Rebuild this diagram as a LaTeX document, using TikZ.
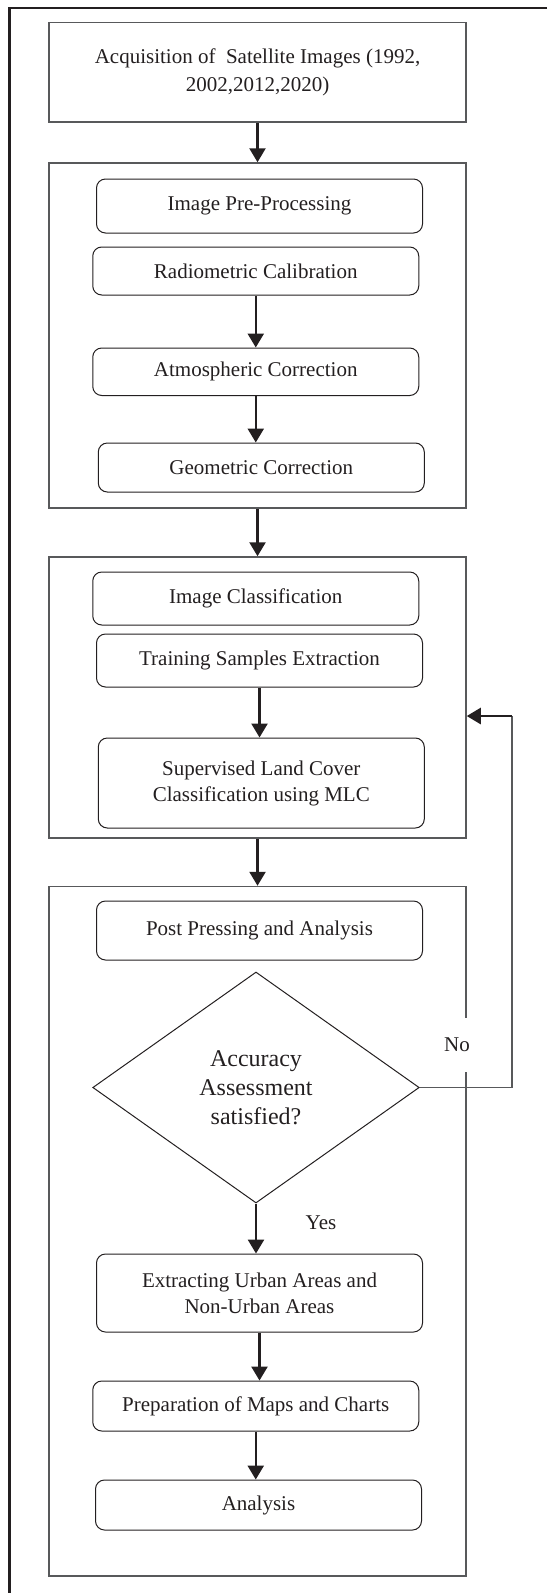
\documentclass[tikz,border=0pt]{standalone}
\usepackage{fontspec}
\setmainfont{Liberation Serif}
\usetikzlibrary{arrows.meta,shapes.geometric}
\definecolor{ink}{HTML}{231F20}
\definecolor{grpgray}{HTML}{58595B}

\begin{document}
\begin{tikzpicture}[x=1pt, y=-1pt,
  proc/.style={draw=ink, line width=1pt, rounded corners=9pt, minimum width=326pt, inner sep=0pt, align=center, text=ink, font=\fontsize{21}{26}\selectfont},
  grp/.style={draw=grpgray, line width=1.5pt, minimum width=417pt, inner sep=0pt},
  arr/.style={draw=ink, line width=2.5pt, -{Triangle[length=14pt, width=16pt]}},
  lbl/.style={text=ink, font=\fontsize{21}{26}\selectfont}]
\useasboundingbox (0,0) rectangle (547,1593);
% outer frame
\draw[ink, line width=2.5pt] (547,8) -- (9.5,8) -- (9.5,1593);

\node[grp, minimum height=99.6pt, align=center, text=ink, font=\fontsize{21}{28}\selectfont] (box0) at (257.5,72.2) {Acquisition of~ Satellite Images (1992,\\ 2002,2012,2020)};

\node[grp, minimum height=345pt] (grp1) at (257.5,335.5){};
\node[proc, minimum height=54pt] (box1) at (259.5,206){Image Pre-Processing};
\node[proc, minimum height=48pt] (box2) at (255.75,271){Radiometric Calibration};
\node[proc, minimum height=47.5pt] (box3) at (255.75,371.75){Atmospheric Correction};
\node[proc, minimum height=49pt] (box4) at (261.3,467.5){Geometric Correction};
\draw[arr] (box0) -- (grp1);
\draw[arr] (box2) -- (box3);
\draw[arr] (box3) -- (box3.south |- box4.north);

\node[grp, minimum height=281pt] (grp2) at (257.5,697.5){};
\node[proc, minimum height=53pt] (box5) at (255.75,598.5){Image Classification};
\node[proc, minimum height=53pt] (box6) at (259.5,660.5){Training Samples Extraction};
\node[proc, minimum height=90pt] (box7) at (261.3,783){Supervised Land Cover\\ Classification using MLC};
\draw[arr] (grp1) -- (grp2);
\draw[arr] (box6) -- (box6.south |- box7.north);

\node[grp, minimum height=689.5pt] (grp3) at (257.5,1231.25){};
\node[proc, minimum height=59pt] (box8) at (259.5,930.5){Post Pressing and Analysis};
\node[draw=ink, line width=1pt, diamond, minimum width=326.5pt, minimum height=231pt, inner sep=0pt, align=center, text=ink, font=\fontsize{24}{29}\selectfont] (dia0) at (256,1087.5){Accuracy\\ Assessment\\ satisfied?};
\node[proc, minimum height=78pt] (box9) at (259.5,1293){Extracting Urban Areas and\\ Non-Urban Areas};
\node[proc, minimum height=50pt] (box10) at (255.75,1406){Preparation of Maps and Charts};
\node[proc, minimum height=50pt] (box11) at (258.5,1505){Analysis};
\draw[arr] (grp2) -- (grp3);
\draw[arr] (dia0.south) -- (dia0.south |- box9.north);
\draw[arr] (box9) -- (box9.south |- box10.north);
\draw[arr] (box10) -- (box10.south |- box11.north);

% back loop
\coordinate (loop0) at (512,716);
\node[lbl, fill=white, minimum height=54pt, inner xsep=1pt] (no0) at (457,1045){No};
\node[lbl] (yes0) at (321,1223){Yes};
\draw[grpgray, line width=1.5pt] (dia0.east) -| (loop0);
\draw[arr] (loop0) -- (grp2.east |- loop0);

\end{tikzpicture}
\end{document}
